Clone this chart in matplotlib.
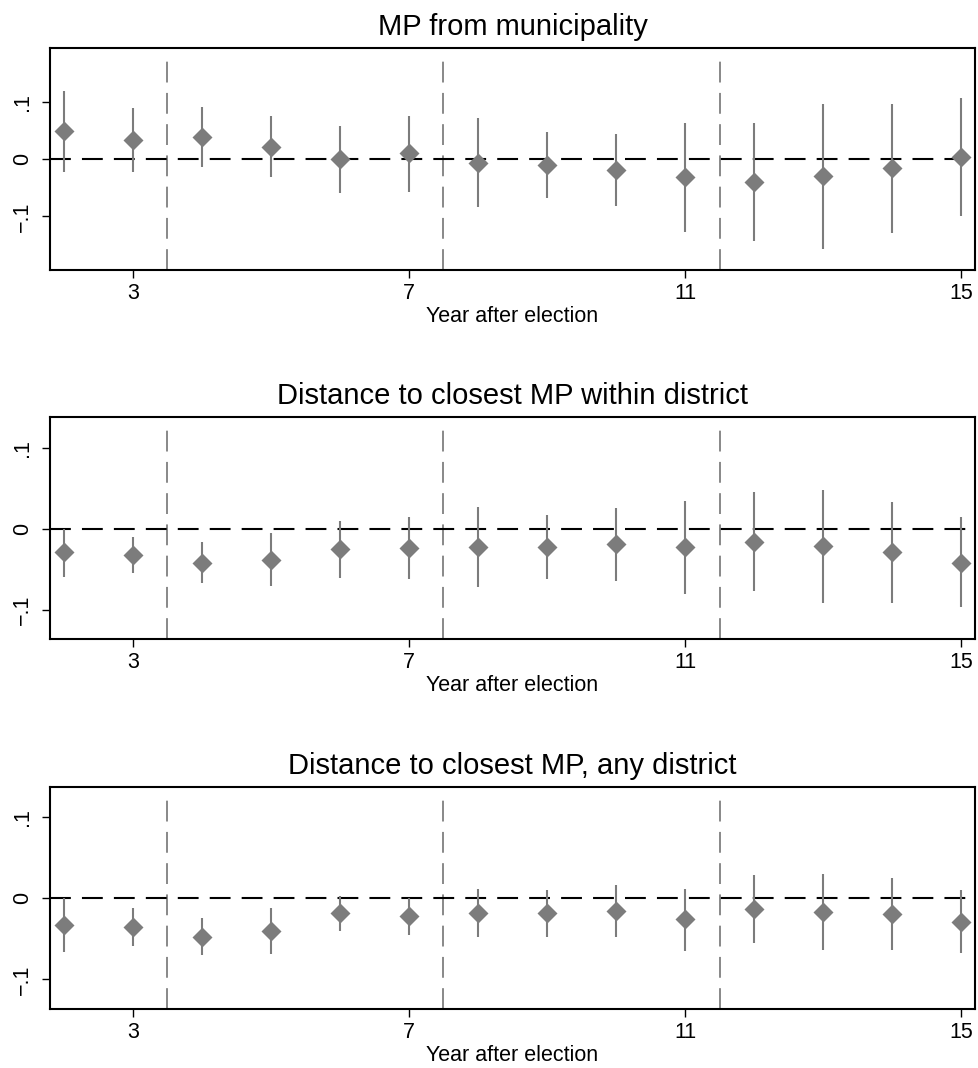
import matplotlib
matplotlib.use('Agg')
import matplotlib.pyplot as plt
import numpy as np

plt.rcParams['font.family'] = ['Liberation Sans', 'DejaVu Sans']
plt.rcParams['lines.scale_dashes'] = False

years = np.arange(2, 16)

# MP from municipality
mun_coef = [0.0495, 0.0338, 0.039, 0.0221, 0.0, 0.0105, -0.007,
            -0.0093, -0.0192, -0.0315, -0.039, -0.029, -0.016, 0.0035]
mun_hi = [0.120, 0.0892, 0.0915, 0.0752, 0.0583, 0.0763, 0.0717,
          0.0484, 0.0437, 0.063, 0.063, 0.096, 0.097, 0.1066]
mun_lo = [-0.0216, -0.0216, -0.0128, -0.0303, -0.0594, -0.0565, -0.0839,
          -0.068, -0.0816, -0.1276, -0.142, -0.156, -0.129, -0.100]

# Distance to closest MP within district
within_coef = [-0.0289, -0.0322, -0.0425, -0.0384, -0.0252, -0.0239, -0.0227,
               -0.0227, -0.019, -0.0227, -0.0157, -0.021, -0.0289, -0.0417]
within_hi = [0.0, -0.0095, -0.0165, -0.0054, 0.0099, 0.0149, 0.0268,
             0.0177, 0.0264, 0.0347, 0.0454, 0.0487, 0.0334, 0.0144]
within_lo = [-0.059, -0.0549, -0.0672, -0.0701, -0.0602, -0.0623, -0.0722,
             -0.0623, -0.0644, -0.080, -0.0763, -0.0912, -0.0912, -0.097]

# Distance to closest MP, any district
any_coef = [-0.0329, -0.0358, -0.0473, -0.0407, -0.0185, -0.0218, -0.0177,
            -0.0185, -0.0152, -0.0259, -0.0132, -0.0165, -0.0193, -0.0288]
any_hi = [0.0, -0.0123, -0.0247, -0.0123, 0.0029, 0.0, 0.0111,
          0.0103, 0.0165, 0.0115, 0.0284, 0.030, 0.0255, 0.0103]
any_lo = [-0.0667, -0.0584, -0.0704, -0.0691, -0.0407, -0.0449, -0.0473,
          -0.0473, -0.0473, -0.0646, -0.0547, -0.0638, -0.0638, -0.0679]

titles = ['MP from municipality',
          'Distance to closest MP within district',
          'Distance to closest MP, any district']
ylims = [(-0.1935, 0.1946), (-0.1365, 0.138), (-0.137, 0.1374)]
election_breaks = [3.5, 7.5, 11.5]
xticks = [3, 7, 11, 15]
yticks = [-0.1, 0, 0.1]
ytick_labels = ['\u2212.1', '0', '.1']

panels = [(mun_coef, mun_lo, mun_hi),
          (within_coef, within_lo, within_hi),
          (any_coef, any_lo, any_hi)]

fig = plt.figure(figsize=(9.79, 10.68), dpi=100)
bottoms = [0.7472, 0.4014, 0.0550]
marker_grey = '#7c7c7c'

for (coef, lo, hi), title, ylim, b in zip(panels, titles, ylims, bottoms):
    ax = fig.add_axes([0.0511, b, 0.9448, 0.2079])

    for xb in election_breaks:
        ax.axvline(xb, ymin=0, ymax=0.95, color='#888888', lw=1.4,
                   linestyle=(0, (15, 7.5)), zorder=1)
    ax.axhline(0, color='black', lw=1.5, linestyle=(0, (15, 8)), zorder=2)

    ax.vlines(years, lo, hi, color=marker_grey, lw=1.5, zorder=3)
    ax.plot(years, coef, 'D', color=marker_grey, ms=10, mec='none', zorder=4)

    ax.set_xlim(1.8, 15.2)
    ax.set_ylim(*ylim)
    ax.set_xticks(xticks)
    ax.set_xticklabels([str(t) for t in xticks])
    ax.set_yticks(yticks)
    ax.set_yticklabels(ytick_labels, rotation=90, va='center')
    ax.tick_params(axis='both', direction='out', length=6, width=1.0,
                   labelsize=15.5)
    ax.tick_params(axis='x', pad=3.5)
    ax.tick_params(axis='y', pad=6)
    for s in ax.spines.values():
        s.set_linewidth(1.5)
    ax.set_title(title, fontsize=21, pad=9.5)
    ax.set_xlabel('Year after election', fontsize=15.5, labelpad=1)

fig.savefig('out.png', dpi=100)
